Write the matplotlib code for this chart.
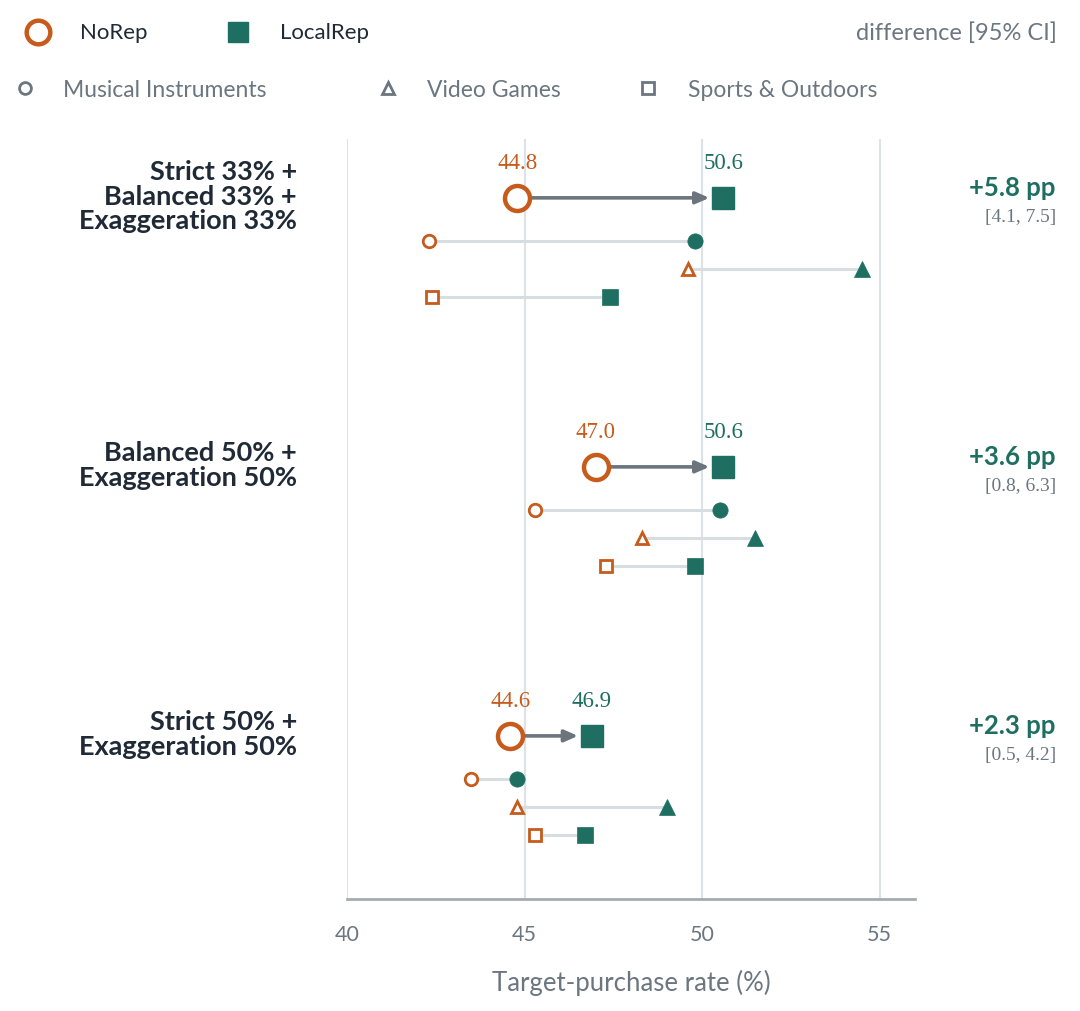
import matplotlib
matplotlib.use('Agg')
import matplotlib.pyplot as plt

# Dados
grupos = ['Strict 33% +\nBalanced 33% +\nExaggeration 33%',
          'Balanced 50% +\nExaggeration 50%',
          'Strict 50% +\nExaggeration 50%']
norep_total = [44.8, 47.0, 44.6]
localrep_total = [50.6, 50.6, 46.9]
diferenca = ['+5.8 pp', '+3.6 pp', '+2.3 pp']
ic95 = ['[4.1, 7.5]', '[0.8, 6.3]', '[0.5, 4.2]']

categorias = ['Musical Instruments', 'Video Games', 'Sports & Outdoors']
norep_cat = [[42.3, 49.6, 42.4],
             [45.3, 48.3, 47.3],
             [43.5, 44.8, 45.3]]
localrep_cat = [[49.8, 54.5, 47.4],
                [50.5, 51.5, 49.8],
                [44.8, 49.0, 46.7]]

xticks = [40, 45, 50, 55]

# Estilo
LARANJA = '#C65B1C'
VERDE = '#1E6F62'
CINZA_TXT = '#6B7680'
ESCURO = '#1F2A36'
SETA = '#6C757D'
GRADE = '#DDE2E7'
CONECTOR = '#D8DDE1'
marcadores = ['o', '^', 's']
tam_cat = {'o': (9, 11), '^': (9, 11), 's': (9, 11)}

SANS = ['Lato', 'DejaVu Sans']
SERIF = ['Liberation Serif', 'DejaVu Serif']
plt.rcParams['font.family'] = SANS

fig = plt.figure(figsize=(10.8, 10.12), dpi=100)
ax = fig.add_axes([347 / 1080, 1 - 900 / 1012, (915 - 347) / 1080, (900 - 140) / 1012])

passo_grupo = 9.6
sub_offsets = [1.55, 2.55, 3.55]

for i in range(len(grupos)):
    y0 = i * passo_grupo
    # linhas por categoria
    for j, m in enumerate(marcadores):
        y = y0 + sub_offsets[j]
        a, b = norep_cat[i][j], localrep_cat[i][j]
        ax.plot([a, b], [y, y], color=CONECTOR, lw=2.2, zorder=2, solid_capstyle='butt')
        ms_open, ms_fill = tam_cat[m]
        ax.plot(a, y, marker=m, ms=ms_open, mfc='white', mec=LARANJA, mew=2, zorder=4)
        ax.plot(b, y, marker=m, ms=ms_fill, mfc=VERDE, mec=VERDE, mew=0.5, zorder=4)

    # linha principal
    a, b = norep_total[i], localrep_total[i]
    ax.annotate('', xy=(b, y0), xytext=(a, y0),
                arrowprops=dict(arrowstyle='-|>,head_length=0.8,head_width=0.35',
                                color=SETA, lw=2.6, shrinkA=9, shrinkB=10),
                zorder=3)
    ax.plot(a, y0, marker='o', ms=18, mfc='white', mec=LARANJA, mew=3.2, zorder=5)
    ax.plot(b, y0, marker='s', ms=15.5, mfc=VERDE, mec=VERDE, zorder=5)
    ax.text(a, y0 - 1.25, f'{a:.1f}', color=LARANJA, ha='center', va='center',
            fontsize=16.5, family=SERIF)
    ax.text(b, y0 - 1.25, f'{b:.1f}', color=VERDE, ha='center', va='center',
            fontsize=16.5, family=SERIF)

    # rótulos à esquerda e à direita
    ax.text(-0.088, y0 - 0.08, grupos[i], transform=ax.get_yaxis_transform(),
            ha='right', va='center', fontsize=19.5, fontweight='bold', color=ESCURO,
            linespacing=1.02)
    ax.text(1.248, y0 - 0.4, diferenca[i], transform=ax.get_yaxis_transform(),
            ha='right', va='center', fontsize=18.5, fontweight='bold', color=VERDE)
    ax.text(1.248, y0 + 0.65, ic95[i], transform=ax.get_yaxis_transform(),
            ha='right', va='center', fontsize=14, color=CINZA_TXT, family=SERIF)

ax.set_xlim(40, 56)
ax.set_ylim(2 * passo_grupo + 5.82, -2.1)
ax.set_xticks(xticks)
ax.set_xticklabels([str(t) for t in xticks], fontsize=15.5, color=CINZA_TXT)
ax.tick_params(axis='x', length=0, pad=18)
ax.set_yticks([])
ax.grid(axis='x', color=GRADE, lw=1.5, zorder=0)
for lado in ['top', 'right', 'left']:
    ax.spines[lado].set_visible(False)
ax.spines['bottom'].set_color('#A3ABB3')
ax.spines['bottom'].set_linewidth(2)
ax.set_xlabel('Target-purchase rate (%)', fontsize=18.5, color=CINZA_TXT, labelpad=18)

# Legenda no topo
leg = fig.add_axes([0, 0, 1, 1])
leg.set_xlim(0, 1080)
leg.set_ylim(1012, 0)
leg.axis('off')
leg.patch.set_alpha(0)
leg.plot(38, 33, marker='o', ms=17, mfc='white', mec=LARANJA, mew=3.2)
leg.text(80, 33, 'NoRep', fontsize=16, color=ESCURO, va='center')
leg.plot(238, 33, marker='s', ms=14, mfc=VERDE, mec=VERDE)
leg.text(280, 33, 'LocalRep', fontsize=16, color=ESCURO, va='center')
leg.text(1057, 33, 'difference [95% CI]', fontsize=17, color=CINZA_TXT,
         va='center', ha='right')
pos_leg = [(25, 63), (388, 427), (648, 688)]
for (xm, xt), m, nome in zip(pos_leg, marcadores, categorias):
    leg.plot(xm, 89, marker=m, ms=8.5, mfc='white', mec=CINZA_TXT, mew=2)
    leg.text(xt, 90, nome, fontsize=16.5, color=CINZA_TXT, va='center')

fig.savefig('out.png', dpi=100)
